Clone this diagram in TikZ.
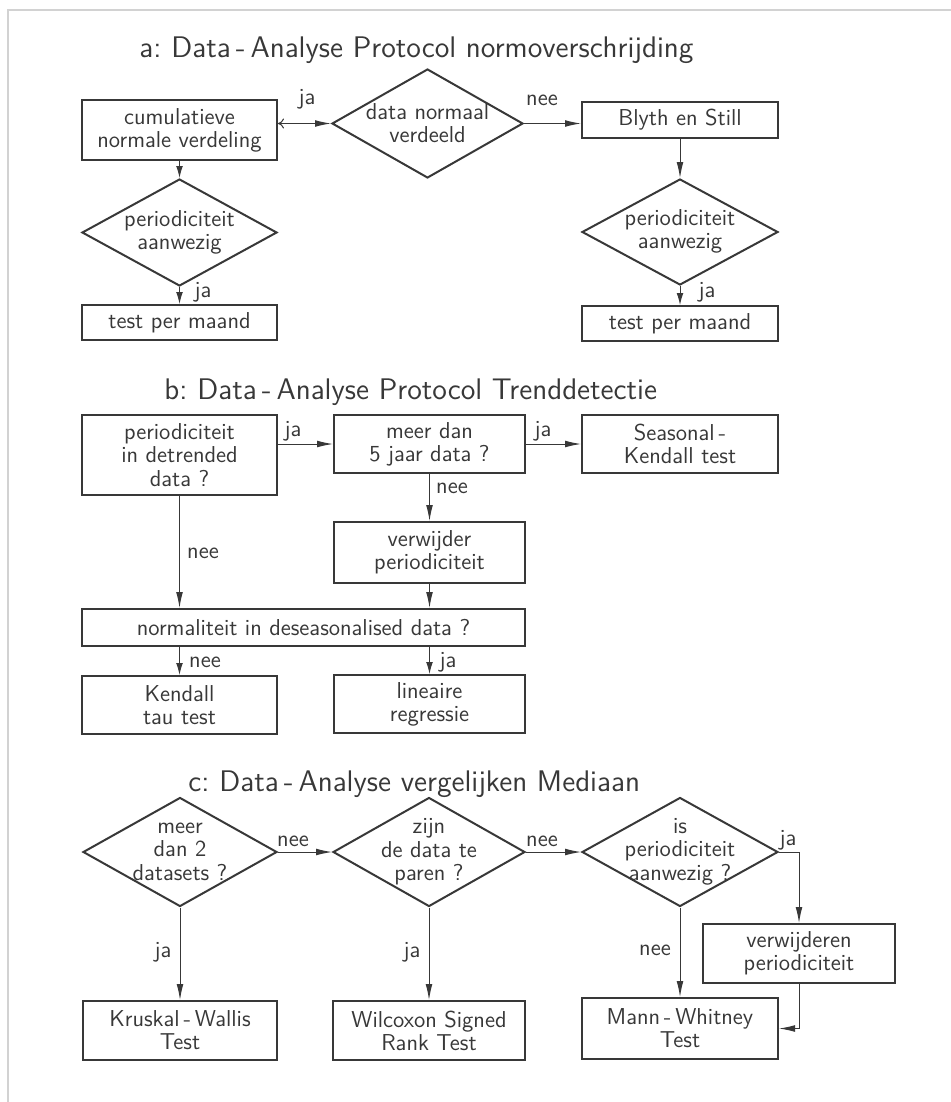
\documentclass[tikz,border=0pt]{standalone}
\usepackage{fontspec}
\usetikzlibrary{shapes.geometric,arrows.meta}
\definecolor{ink}{gray}{0.22}
\newcommand\nfont{\sffamily\fontsize{11.5}{11.6}\selectfont}
\newcommand\tfont{\sffamily\fontsize{14.9}{18}\selectfont}
\newcommand\dtext[1]{\makebox[0pt]{\raisebox{-0.25em}{$\vcenter{\baselineskip=11.6pt\lineskiplimit=-10pt\halign{\hfil##\hfil\cr#1\crcr}}$}}}
\tikzset{
  wh/.style 2 args={minimum width=#1*0.5pt, minimum height=#2*0.5pt},
  box/.style={draw=ink, line width=1pt, rectangle, inner sep=1pt, align=center, font=\nfont, text=ink},
  dia/.style={draw=ink, line width=1pt, diamond, inner sep=0pt, text height=0pt, text depth=0pt, font=\nfont, text=ink},
  conn/.style={draw=ink, line width=0.5pt, -{Latex[length=8pt,width=3.4pt]}},
  sconn/.style={draw=ink, line width=0.5pt, -{Latex[length=6pt,width=3.4pt]}},
  lab/.style={font=\nfont, text=ink, inner sep=0pt},
  ttl/.style={font=\tfont, text=ink, inner sep=0pt, anchor=base west},
}
\begin{document}
\begin{tikzpicture}[x=0.5pt,y=-0.5pt]
\useasboundingbox (0,0) rectangle (951,1102);
\draw[gray!35, line width=0.6pt] (8,1102) -- (8,10) -- (951,10);

% ---------- a ----------
\node[ttl] (tA) at (139,58) {a:\,\,Data\,-\,Analyse Protocol normoverschrijding};
\node[box, wh={195}{60}] (cum) at (179.5,130) {cumulatieve\\normale verdeling};
\node[dia, wh={191}{109}] (dA) at (427.5,123.5) {\dtext{data normaal\cr verdeeld}};
\node[box, wh={196}{36}] (blyth) at (680,120) {Blyth en Still};
\node[dia, wh={195}{107}] (pA1) at (179.5,232.5) {\dtext{periodiciteit\cr aanwezig}};
\node[dia, wh={196}{106}] (pA2) at (680,232) {\dtext{periodiciteit\cr aanwezig}};
\node[box, wh={195}{35}] (tA1) at (179.5,322.5) {test per maand};
\node[box, wh={196}{35}] (tA2) at (680,323.5) {test per maand};

\draw[draw=ink, line width=0.5pt, {To[length=3pt,width=5pt]}-{Latex[length=8pt,width=3.4pt]}] (dA.west -| cum.east) -- (dA.west);
\draw[conn] (dA.east) -- (dA.east -| blyth.west);
\draw[sconn] (cum.south) -- (pA1.north);
\draw[conn] (blyth.south) -- (pA2.north);
\draw[sconn] (pA1.south) -- (tA1.north);
\draw[sconn] (pA2.south) -- (tA2.north);
\node[lab] (lA1) at (307,99) {ja};
\node[lab] (lA2) at (542,100) {nee};
\node[lab] (lA3) at (203,292) {ja};
\node[lab] (lA4) at (707,292) {ja};

% ---------- b ----------
\node[ttl] (tB) at (164,399) {b:\,\,Data\,-\,Analyse Protocol Trenddetectie};
\node[box, wh={195}{80}] (b1) at (179.5,455) {periodiciteit\\in detrended\\data ?};
\node[box, wh={191}{58}] (b2) at (429.5,444) {meer dan\\5 jaar data ?};
\node[box, wh={196}{58}] (b3) at (680,444) {Seasonal\,-\\Kendall test};
\node[box, wh={191}{61}] (b4) at (429.5,552.5) {verwijder\\periodiciteit};
\node[box, wh={443}{37}] (b5) at (303.5,627.5) {normaliteit in deseasonalised data ?};
\node[box, wh={195}{58}] (b6) at (179.5,705) {Kendall\\tau test};
\node[box, wh={191}{58}] (b7) at (429.5,704) {lineaire\\regressie};

\draw[conn] (b2.west -| b1.east) -- (b2.west);
\draw[conn] (b2.east) -- (b3.west);
\draw[conn] (b2.south) -- (b4.north);
\draw[conn] (b1.south) -- (b1.south |- b5.north);
\draw[conn] (b4.south) -- (b4.south |- b5.north);
\draw[sconn] (b6.north |- b5.south) -- (b6.north);
\draw[sconn] (b7.north |- b5.south) -- (b7.north);
\node[lab] (lB1) at (293,431) {ja};
\node[lab] (lB2) at (543,431) {ja};
\node[lab] (lB3) at (452,488) {nee};
\node[lab] (lB4) at (203,553) {nee};
\node[lab] (lB5) at (205,662) {nee};
\node[lab] (lB6) at (448,662) {ja};

% ---------- c ----------
\node[ttl] (tC) at (188,791) {c:\,\,Data\,-\,Analyse vergelijken Mediaan};
\node[dia, wh={194}{109}] (c1) at (180,852) {\dtext{meer\cr dan 2\cr datasets ?}};
\node[dia, wh={192}{109}] (c2) at (429,852) {\dtext{zijn\cr de data te\cr paren ?}};
\node[dia, wh={196}{109}] (c3) at (680,852) {\dtext{is\cr periodiciteit\cr aanwezig ?}};
\node[box, wh={194}{59}] (c4) at (180,1030.5) {Kruskal\,-\,Wallis\\Test};
\node[box, wh={192}{59}] (c5) at (429,1030.5) {Wilcoxon Signed\\Rank Test};
\node[box, wh={196}{61}] (c6) at (680,1028.5) {Mann\,-\,Whitney\\Test};
\node[box, wh={192}{59}] (c7) at (799,953.5) {verwijderen\\periodiciteit};

\draw[conn] (c1.east) -- (c2.west);
\draw[conn] (c2.east) -- (c3.west);
\draw[conn] (c3.east) -| (c7.north);
\draw[conn] (c7.south) |- (c6.east);
\draw[conn] (c1.south) -- (c4.north);
\draw[conn] (c2.south) -- (c5.north);
\draw[conn] (c3.south) -- (c6.north);
\node[lab] (lC1) at (293,841) {nee};
\node[lab] (lC2) at (542,841) {nee};
\node[lab] (lC3) at (788,840) {ja};
\node[lab] (lC4) at (163,952) {ja};
\node[lab] (lC5) at (412,952) {ja};
\node[lab] (lC6) at (655,950) {nee};
\end{tikzpicture}
\end{document}
